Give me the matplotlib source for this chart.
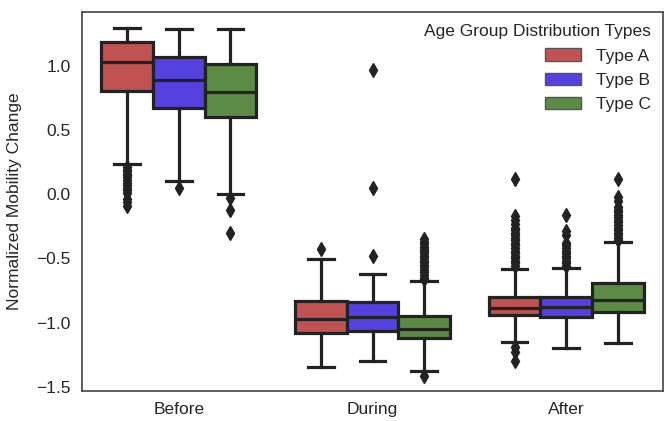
import matplotlib
matplotlib.use("Agg")
import matplotlib.pyplot as plt
from matplotlib.patches import Patch

plt.rcParams['font.family'] = ['Liberation Sans', 'DejaVu Sans']

periods = ["Before", "During", "After"]
types = ["Type A", "Type B", "Type C"]
colors = ["#c05252", "#5541e0", "#5b8b45"]

# stats per period, per type: (whislo, q1, med, q3, whishi)
before_stats = [
    (0.234, 0.801, 1.031, 1.182, 1.291),
    (0.104, 0.673, 0.889, 1.070, 1.286),
    (-0.002, 0.603, 0.797, 1.011, 1.286),
]
during_stats = [
    (-1.349, -1.079, -0.975, -0.830, -0.505),
    (-1.302, -1.064, -0.955, -0.843, -0.625),
    (-1.375, -1.118, -1.051, -0.947, -0.677),
]
after_stats = [
    (-1.154, -0.944, -0.885, -0.800, -0.586),
    (-1.200, -0.957, -0.882, -0.799, -0.578),
    (-1.160, -0.916, -0.825, -0.695, -0.371),
]

before_fliers = [
    [0.21, 0.19, 0.18, 0.16, 0.15, 0.13, 0.11, 0.09, 0.07, 0.05, 0.03, 0.01, -0.04, -0.06, -0.09],
    [0.045],
    [-0.033, -0.124, -0.30],
]
during_fliers = [
    [-0.43],
    [0.966, 0.045, -0.484],
    [-0.35, -0.37, -0.39, -0.41, -0.43, -0.44, -0.46, -0.48, -0.50, -0.52, -0.53,
     -0.55, -0.57, -0.59, -0.61, -0.63, -0.65, -0.66, -1.414],
]
after_fliers = [
    [0.12, -0.17, -0.20, -0.23, -0.26, -0.28, -0.30, -0.32, -0.34, -0.36, -0.38, -0.40,
     -0.42, -0.44, -0.46, -0.48, -0.50, -0.52, -0.54, -0.56, -1.19, -1.23, -1.30],
    [-0.16, -0.29, -0.32, -0.38, -0.40, -0.42, -0.44, -0.46, -0.48, -0.50, -0.52, -0.54, -0.56],
    [0.12, -0.02, -0.05, -0.10, -0.12, -0.14, -0.16, -0.18, -0.20, -0.22, -0.24, -0.26,
     -0.28, -0.30, -0.32, -0.34, -0.36],
]

all_stats = [before_stats, during_stats, after_stats]
all_fliers = [before_fliers, during_fliers, after_fliers]

fig = plt.figure(figsize=(6.65, 4.21), dpi=100)
ax = fig.add_axes([82 / 665, 30 / 421, 581 / 665, 379 / 421])

w = 0.8 / 3
edge = "#222222"
lw = 2.3
for pi, (stats_p, fl_p) in enumerate(zip(all_stats, all_fliers)):
    for ti in range(3):
        lo, q1, med, q3, hi = stats_p[ti]
        st = dict(whislo=lo, q1=q1, med=med, q3=q3, whishi=hi, fliers=fl_p[ti])
        pos = pi + (ti - 1) * w
        ax.bxp([st], positions=[pos], widths=w, patch_artist=True, showfliers=True,
               boxprops=dict(facecolor=colors[ti], edgecolor=edge, linewidth=lw),
               medianprops=dict(color=edge, linewidth=lw),
               whiskerprops=dict(color=edge, linewidth=lw),
               capprops=dict(color=edge, linewidth=lw),
               flierprops=dict(marker='d', markerfacecolor=edge, markeredgecolor=edge,
                               markersize=7.5, linestyle='none'),
               manage_ticks=False)

fs = 12.5
ax.set_xlim(-0.5, 2.5)
ax.set_ylim(-1.533, 1.418)
ax.set_xticks([0, 1, 2])
ax.set_xticklabels(periods, fontsize=fs)
ax.set_yticks([-1.5, -1.0, -0.5, 0.0, 0.5, 1.0])
ax.set_yticklabels(["\u22121.5", "\u22121.0", "\u22120.5", "0.0", "0.5", "1.0"], fontsize=fs)
ax.tick_params(length=0, colors="#262626")
ax.tick_params(axis="x", pad=8)
ax.tick_params(axis="y", pad=8)
ax.set_ylabel("Normalized Mobility Change", fontsize=fs, color="#262626", labelpad=10)
for s in ax.spines.values():
    s.set_color("#444444")
    s.set_linewidth(1.2)

handles = [Patch(facecolor=c, edgecolor="#555555", linewidth=1) for c in colors]
leg = ax.legend(handles, types, title="Age Group Distribution Types", loc="upper right",
                frameon=False, fontsize=fs, title_fontsize=fs, alignment="right",
                handlelength=2.1, handleheight=0.7, handletextpad=0.85, labelspacing=0.53,
                borderaxespad=0.3)
for t in leg.get_texts():
    t.set_color("#262626")
leg.get_title().set_color("#262626")

fig.savefig("out.png", dpi=100)
